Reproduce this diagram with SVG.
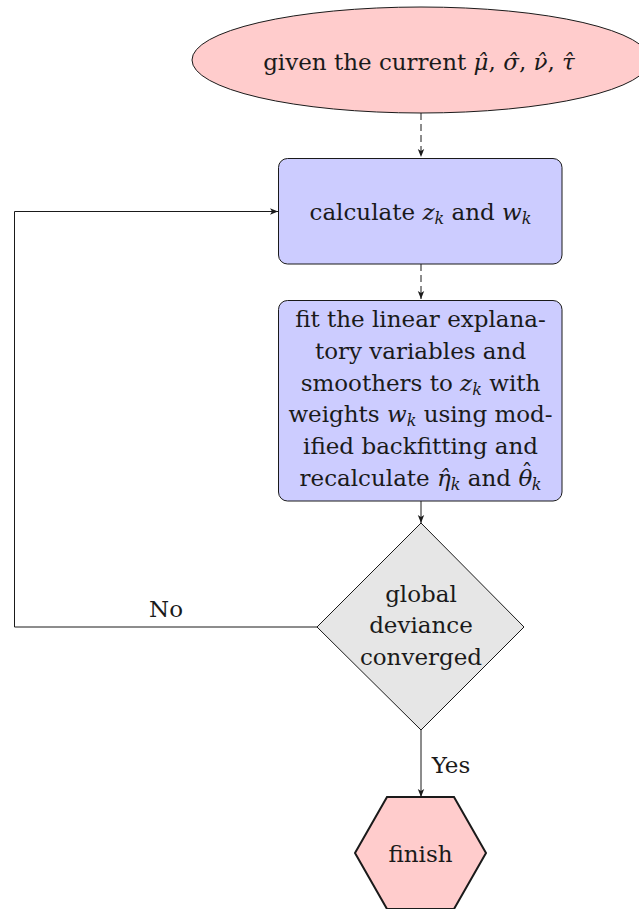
<svg xmlns="http://www.w3.org/2000/svg" width="639" height="909" viewBox="0 0 639 909">
  <style>
    text { font-family: 'DejaVu Serif', serif; font-size: 23px; fill: #1a1a1a; text-anchor: middle; }
    .m { font-style: italic; }
    .sub { font-style: italic; font-size: 16px; }
    .node { stroke: #1a1a1a; stroke-width: 1; }
    .conn { fill: none; stroke: #1a1a1a; stroke-width: 1; }
    .dash { stroke-dasharray: 7 4; }
  </style>
  <defs>
    <marker id="arr" viewBox="0 0 10 10" refX="10" refY="5" markerWidth="8" markerHeight="8" markerUnits="userSpaceOnUse" orient="auto">
      <path d="M0,1 L10,5 L0,9 L2.5,5 Z" fill="#1a1a1a"/>
    </marker>
  </defs>

  <!-- connectors -->
  <g id="connectors">
    <line class="conn dash" x1="421" y1="113" x2="421" y2="157" marker-end="url(#arr)"/>
    <line class="conn dash" x1="421" y1="264" x2="421" y2="299" marker-end="url(#arr)"/>
    <line class="conn" x1="421" y1="501" x2="421" y2="523" marker-end="url(#arr)"/>
    <line class="conn" x1="421" y1="730" x2="421" y2="797" marker-end="url(#arr)"/>
    <polyline class="conn" points="317,627 14.5,627 14.5,211.5 278,211.5" marker-end="url(#arr)"/>
    <text x="166" y="617">No</text>
    <text x="451" y="773">Yes</text>
  </g>

  <g id="start">
    <ellipse class="node" cx="421" cy="60" rx="229" ry="53" fill="#ffcccc"/>
    <text x="419" y="70">given the current <tspan class="m">μ̂</tspan>, <tspan class="m">σ̂</tspan>, <tspan class="m">ν̂</tspan>, <tspan class="m">τ̂</tspan></text>
  </g>

  <g id="calc">
    <rect class="node" x="278.5" y="158.5" width="283.5" height="105.5" rx="9" fill="#ccccff"/>
    <text x="420.5" y="220">calculate <tspan class="m">z</tspan><tspan class="sub" dy="4">k</tspan><tspan dy="-4"> and </tspan><tspan class="m">w</tspan><tspan class="sub" dy="4">k</tspan></text>
  </g>

  <g id="fit">
    <rect class="node" x="278.5" y="300.5" width="283.5" height="200.5" rx="9" fill="#ccccff"/>
    <text x="420.5" y="327">fit the linear explana-</text>
    <text x="420.5" y="359">tory variables and</text>
    <text x="420.5" y="391">smoothers to <tspan class="m">z</tspan><tspan class="sub" dy="4">k</tspan><tspan dy="-4"> with</tspan></text>
    <text x="420.5" y="422">weights <tspan class="m">w</tspan><tspan class="sub" dy="4">k</tspan><tspan dy="-4"> using mod-</tspan></text>
    <text x="420.5" y="454">ified backfitting and</text>
    <text x="420.5" y="486">recalculate <tspan class="m">η̂</tspan><tspan class="sub" dy="4">k</tspan><tspan dy="-4"> and </tspan><tspan class="m">θ</tspan><tspan dx="-11" dy="-6">ˆ</tspan><tspan class="sub" dx="-1" dy="10">k</tspan></text>
  </g>

  <g id="converged">
    <polygon class="node" points="421,523 524,627 421,730 317,627" fill="#e6e6e6"/>
    <text x="421" y="602">global</text>
    <text x="421" y="633">deviance</text>
    <text x="421" y="665">converged</text>
  </g>

  <g id="finish">
    <polygon points="387,797 454,797 486,853 454,909 387,909 355,853" fill="#ffcccc" stroke="#1a1a1a" stroke-width="2"/>
    <text x="420.5" y="862">finish</text>
  </g>
</svg>
